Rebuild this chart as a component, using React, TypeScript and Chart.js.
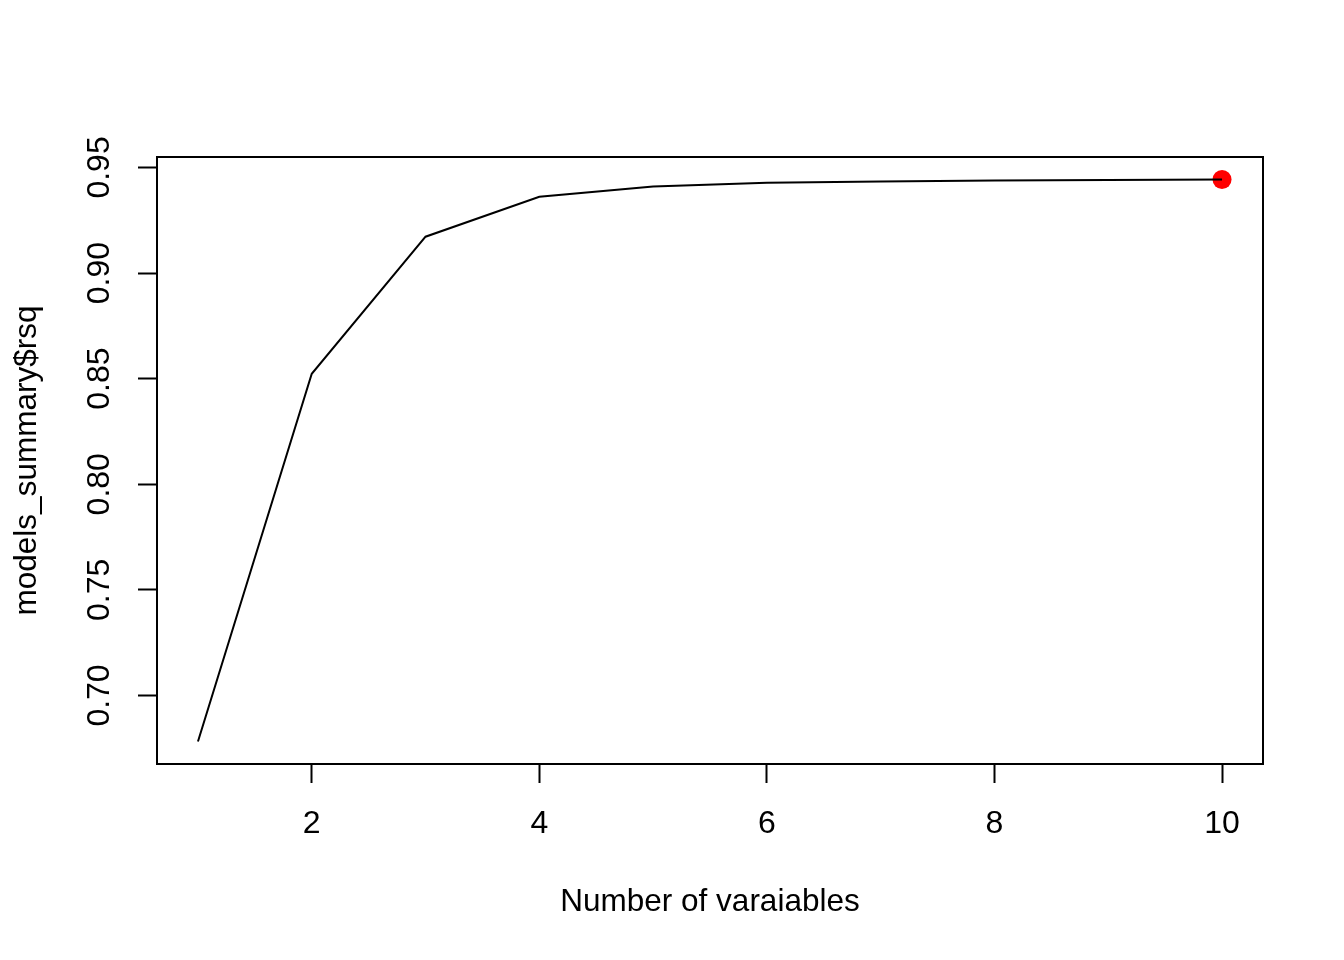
import React, { useEffect, useRef } from "react";
import { Chart, registerables } from "chart.js";

Chart.register(...registerables);

const numVars = [1, 2, 3, 4, 5, 6, 7, 8, 9, 10];
const rsq = [0.6782, 0.8523, 0.9172, 0.9361, 0.941, 0.9428, 0.9433, 0.9438, 0.9441, 0.9443];
const xTicks = [2, 4, 6, 8, 10];
const yTicks = [0.7, 0.75, 0.8, 0.85, 0.9, 0.95];
const xTitle = "Number of varaiables";
const yTitle = "models_summary$rsq";

const FONT = "'Liberation Sans', Arial, Helvetica, sans-serif";

const boxPlugin = {
  id: "boxPlugin",
  afterDraw(chart: any) {
    const { ctx, chartArea } = chart;
    ctx.save();
    ctx.strokeStyle = "#000";
    ctx.lineWidth = 2;
    ctx.strokeRect(chartArea.left, chartArea.top, chartArea.right - chartArea.left, chartArea.bottom - chartArea.top);
    ctx.restore();
  },
};

export default function App() {
  const ref = useRef<HTMLCanvasElement | null>(null);

  useEffect(() => {
    document.body.style.margin = "0";
    const canvas = ref.current;
    if (!canvas) return;

    // R-style 4% range extension
    const xr = Math.max(...numVars) - Math.min(...numVars);
    const xmin = Math.min(...numVars) - 0.04 * xr;
    const xmax = Math.max(...numVars) + 0.04 * xr;
    const yr = Math.max(...rsq) - Math.min(...rsq);
    const ymin = Math.min(...rsq) - 0.04 * yr;
    const ymax = Math.max(...rsq) + 0.04 * yr;

    let best = 0;
    rsq.forEach((v, i) => {
      if (v > rsq[best]) best = i;
    });

    const chart = new Chart(canvas, {
      type: "line",
      data: {
        datasets: [
          {
            label: "rsq",
            data: numVars.map((x, i) => ({ x, y: rsq[i] })),
            borderColor: "#000",
            borderWidth: 2,
            pointRadius: 0,
            fill: false,
            tension: 0,
          },
          {
            label: "best",
            data: [{ x: numVars[best], y: rsq[best] }],
            showLine: false,
            pointRadius: 9.5,
            pointBackgroundColor: "#ff0000",
            pointBorderWidth: 0,
            borderColor: "#ff0000",
          },
        ],
      },
      options: {
        responsive: false,
        animation: false,
        devicePixelRatio: 1,
        layout: { padding: { top: 157, right: 81, left: 0, bottom: 0 } },
        plugins: { legend: { display: false }, tooltip: { enabled: false } },
        scales: {
          x: {
            type: "linear",
            min: xmin,
            max: xmax,
            afterBuildTicks: (scale: any) => {
              scale.ticks = xTicks.map((v) => ({ value: v }));
            },
            afterFit: (scale: any) => {
              scale.height = 196;
            },
            grid: {
              drawOnChartArea: false,
              drawTicks: true,
              tickLength: 19,
              tickWidth: 2,
              tickColor: "#000",
              color: "#000",
            },
            border: { display: true, color: "#000", width: 2 },
            ticks: {
              color: "#000",
              font: { family: FONT, size: 32 },
              padding: 22,
              maxRotation: 0,
              minRotation: 0,
              autoSkip: false,
              callback: (v: any) => String(v),
            },
            title: {
              display: true,
              text: xTitle,
              color: "#000",
              font: { family: FONT, size: 31.5 },
              padding: { top: 0, bottom: 39 },
            },
          },
          y: {
            type: "linear",
            min: ymin,
            max: ymax,
            afterBuildTicks: (scale: any) => {
              scale.ticks = yTicks.map((v) => ({ value: v }));
            },
            afterFit: (scale: any) => {
              scale.width = 157;
            },
            grid: {
              drawOnChartArea: false,
              drawTicks: true,
              tickLength: 19,
              tickWidth: 2,
              tickColor: "#000",
              color: "#000",
            },
            border: { display: true, color: "#000", width: 2 },
            ticks: {
              color: "#000",
              font: { family: FONT, size: 32 },
              padding: 7,
              minRotation: 90,
              maxRotation: 90,
              crossAlign: "center",
              autoSkip: false,
              callback: (v: any) => Number(v).toFixed(2),
            },
            title: {
              display: true,
              text: yTitle,
              color: "#000",
              font: { family: FONT, size: 31.5 },
              padding: { top: 8, bottom: 0 },
            },
          },
        },
      },
      plugins: [boxPlugin],
    } as any);

    return () => chart.destroy();
  }, []);

  return (
    <div style={{ width: 1344, height: 960, background: "#fff" }}>
      <canvas ref={ref} width={1344} height={960} style={{ display: "block", width: 1344, height: 960 }} />
    </div>
  );
}
